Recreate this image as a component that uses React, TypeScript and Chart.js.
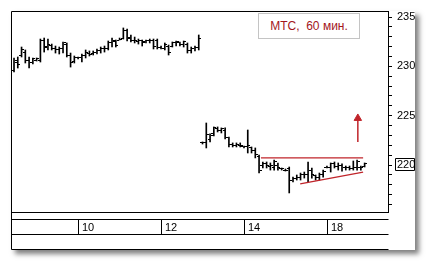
import React, { useEffect, useRef } from 'react';
import { Chart, registerables } from 'chart.js';

Chart.register(...registerables);

// Hourly OHLC bars (index = bar number)
const highs = [
  230.85, 230.95, 231.96, 231.66, 230.95, 230.85, 230.85, 232.77, 232.87, 232.77,
  232.26, 232.06, 231.96, 232.47, 232.37, 231.35, 231.05, 230.95, 231.25, 231.66,
  231.56, 231.56, 231.76, 231.96, 232.06, 232.57, 232.87, 232.67, 232.87, 233.89,
  233.78, 233.18, 232.97, 232.77, 232.67, 232.67, 232.77, 232.77, 232.77, 232.06,
  232.37, 232.16, 232.47, 232.57, 232.47, 232.57, 232.37, 231.96, 232.06, 233.18,
  222.34, 224.26, 223.15, 223.86, 223.86, 223.76, 223.76, 222.84, 222.24, 222.24,
  222.24, 221.93, 223.55, 221.83, 221.73, 221.02, 220.31, 220.31, 220.21, 220.51,
  220.21, 219.70, 219.60, 219.80, 218.78, 218.99, 219.19, 219.29, 220.31, 219.70,
  218.99, 219.19, 219.49, 219.90, 220.21, 220.31, 220.21, 220.11, 219.90, 219.90,
  220.41, 220.51, 219.90, 220.21,
];
const lows = [
  229.43, 229.83, 230.95, 230.34, 229.83, 230.24, 230.54, 230.44, 231.45, 231.66,
  231.66, 231.35, 231.25, 231.35, 230.95, 229.93, 230.34, 230.75, 230.44, 230.85,
  231.05, 231.15, 231.25, 231.35, 231.45, 231.66, 231.96, 231.96, 232.67, 232.77,
  232.57, 232.47, 232.37, 232.26, 232.06, 232.37, 232.37, 231.76, 231.76, 231.76,
  231.66, 231.15, 231.96, 232.06, 232.06, 231.96, 231.35, 231.35, 231.56, 231.66,
  222.13, 221.73, 222.34, 222.95, 223.35, 223.25, 222.64, 221.83, 221.83, 221.83,
  221.83, 221.73, 221.22, 221.22, 220.72, 219.19, 219.70, 219.70, 219.49, 219.49,
  219.49, 219.49, 219.39, 217.17, 218.28, 218.48, 218.48, 218.68, 218.28, 218.68,
  218.48, 218.48, 218.78, 219.70, 219.29, 219.70, 219.49, 219.39, 219.49, 219.49,
  219.49, 219.49, 219.49, 219.80,
];
const opens = [
  229.63, 230.44, 231.15, 231.45, 230.64, 230.44, 230.64, 230.64, 232.57, 232.06,
  232.16, 231.86, 231.66, 231.86, 232.26, 231.15, 230.54, 230.85, 230.85, 231.05,
  231.35, 231.35, 231.45, 231.56, 231.76, 231.86, 232.37, 232.47, 232.67, 232.87,
  233.68, 232.97, 232.67, 232.47, 232.57, 232.47, 232.57, 232.67, 232.57, 231.96,
  231.86, 232.06, 232.06, 232.37, 232.37, 232.26, 232.26, 231.56, 231.76, 231.96,
  222.24, 222.24, 222.54, 223.15, 223.66, 223.55, 223.55, 222.74, 222.13, 222.03,
  222.03, 221.83, 221.83, 221.73, 221.52, 220.82, 220.00, 220.11, 219.90, 219.80,
  220.00, 219.60, 219.49, 219.60, 218.48, 218.68, 218.78, 218.99, 219.09, 219.49,
  218.89, 218.78, 219.09, 219.80, 219.80, 220.11, 219.90, 220.00, 219.70, 219.80,
  219.60, 219.70, 219.70, 219.90,
];
const closes = [
  230.64, 230.14, 231.66, 230.64, 230.44, 230.75, 230.75, 232.57, 231.96, 232.26,
  231.86, 231.66, 231.86, 232.37, 231.15, 230.44, 230.85, 230.85, 231.15, 231.45,
  231.25, 231.45, 231.56, 231.76, 231.86, 232.37, 232.57, 232.16, 232.77, 233.68,
  232.87, 232.67, 232.57, 232.57, 232.37, 232.57, 232.67, 232.06, 231.96, 231.86,
  232.26, 231.45, 232.37, 232.47, 232.26, 232.47, 231.56, 231.76, 231.96, 232.87,
  222.24, 223.05, 222.95, 223.76, 223.55, 223.66, 222.84, 222.13, 222.03, 222.13,
  221.93, 221.83, 221.93, 221.52, 221.02, 219.49, 220.11, 220.00, 220.00, 220.31,
  219.70, 219.60, 219.49, 218.48, 218.68, 218.78, 218.99, 219.09, 219.49, 218.99,
  218.78, 219.09, 219.39, 219.80, 220.11, 219.90, 220.00, 219.70, 219.80, 219.60,
  219.70, 220.31, 219.80, 220.11,
];

// Day separators (first bar of a day) and their labels
const dayStarts = [17, 39, 61, 83];
const dayLabels = ['10', '12', '14', '18'];

// Y axis
const yMin = 215.24;
const yMax = 235.61;
const yLabelStep = 5;
const lastPriceLabel = 220;

// Drawn annotations (bar index, price)
const resistanceLine = [{ x: 65.5, y: 220.72 }, { x: 92.6, y: 220.72 }];
const supportLine = [{ x: 75.9, y: 218.08 }, { x: 92.6, y: 219.29 }];
const arrowLine = [{ x: 91.2, y: 222.34 }, { x: 91.2, y: 224.74 }];

const legendText = 'МТС,  60 мин.';

const RED = '#c0242a';
const FONT = '"Liberation Sans", Arial, sans-serif';

function makeTick(left: boolean) {
  const c = document.createElement('canvas');
  c.width = 5;
  c.height = 1;
  const g = c.getContext('2d')!;
  g.fillStyle = '#000';
  g.fillRect(left ? 0 : 3, 0, 2, 1);
  return c;
}

const framePlugin = {
  id: 'frame',
  beforeDatasetsDraw(chart: any) {
    chart.ctx.imageSmoothingEnabled = false;
  },
  afterDraw(chart: any) {
    const ctx = chart.ctx as CanvasRenderingContext2D;
    const a = chart.chartArea;
    const xs = chart.scales.x;
    const ys = chart.scales.y;
    const L = Math.round(a.left) + 0.5;
    const R = Math.round(a.right) + 0.5;
    const T = Math.round(a.top) + 0.5;
    const B = Math.round(a.bottom) + 0.5;
    ctx.save();
    ctx.strokeStyle = '#000';
    ctx.lineWidth = 1;
    ctx.beginPath();
    ctx.moveTo(L, T); ctx.lineTo(R, T);
    ctx.moveTo(L, T); ctx.lineTo(L, B + 37);
    ctx.moveTo(L, B); ctx.lineTo(R, B);
    ctx.moveTo(L, B + 7); ctx.lineTo(R, B + 7);
    ctx.moveTo(L, B + 22); ctx.lineTo(R, B + 22);
    ctx.moveTo(L, B + 37); ctx.lineTo(R, B + 37);
    dayStarts.forEach((d) => {
      const px = Math.round(xs.getPixelForValue(d)) + 0.5;
      ctx.moveTo(px, B + 7); ctx.lineTo(px, B + 22);
    });
    // box around last price label
    const py = Math.round(ys.getPixelForValue(lastPriceLabel));
    ctx.rect(R + 7, py - 6.5, 19, 12);
    ctx.stroke();
    ctx.fillStyle = '#000';
    ctx.font = '11px ' + FONT;
    ctx.textBaseline = 'middle';
    ctx.textAlign = 'left';
    dayStarts.forEach((d, k) => {
      const px = Math.round(xs.getPixelForValue(d));
      ctx.fillText(dayLabels[k], px + 4, B + 15);
    });
    ctx.restore();
  },
};

export default function App() {
  const ref = useRef<HTMLCanvasElement>(null);
  useEffect(() => {
    const openImg = makeTick(true);
    const closeImg = makeTick(false);
    const idx = highs.map((_, i) => i);
    const chart = new Chart(ref.current!, {
      type: 'scatter',
      data: {
        datasets: [
          {
            type: 'line',
            data: arrowLine,
            borderColor: RED,
            borderWidth: 1.5,
            pointRadius: [0, 4.3],
            pointStyle: 'triangle',
            pointBackgroundColor: RED,
            pointBorderColor: RED,
            pointBorderWidth: 1,
          } as any,
          {
            type: 'line',
            data: resistanceLine,
            borderColor: RED,
            borderWidth: 1.3,
            pointRadius: 0,
          },
          {
            type: 'line',
            data: supportLine,
            borderColor: RED,
            borderWidth: 1.3,
            pointRadius: 0,
          },
          {
            type: 'scatter',
            data: idx.map((i) => ({ x: i, y: opens[i] })),
            pointStyle: openImg as any,
            pointRadius: 2,
            showLine: false,
          },
          {
            type: 'scatter',
            data: idx.map((i) => ({ x: i, y: closes[i] })),
            pointStyle: closeImg as any,
            pointRadius: 2,
            showLine: false,
          },
          {
            type: 'bar',
            data: idx.map((i) => ({ x: i, y: [lows[i], highs[i]] })) as any,
            backgroundColor: '#000',
            borderWidth: 0,
            barThickness: 1,
            grouped: false,
          } as any,
        ],
      },
      options: {
        responsive: false,
        animation: false,
        devicePixelRatio: 1,
        events: [],
        layout: { padding: { left: 11, top: 11, right: 16, bottom: 51 } },
        plugins: {
          legend: { display: false },
          tooltip: { enabled: false },
        },
        scales: {
          x: {
            type: 'linear',
            display: false,
            min: -0.8,
            max: 99.2,
            offset: false,
          },
          y: {
            type: 'linear',
            position: 'right',
            min: yMin,
            max: yMax,
            beginAtZero: false,
            grid: {
              drawOnChartArea: false,
              drawTicks: true,
              tickLength: 4,
              color: '#000',
              lineWidth: 1,
            },
            border: { display: true, color: '#000', width: 1 },
            ticks: {
              stepSize: 1,
              includeBounds: false,
              autoSkip: false,
              padding: 5,
              color: '#000',
              font: { family: FONT, size: 11, lineHeight: 1 },
              callback: (v: any) => (Number(v) % yLabelStep === 0 ? String(v) : ''),
            },
            afterFit: (s: any) => {
              s.width = 27;
            },
          } as any,
        },
      },
      plugins: [framePlugin],
    });
    return () => chart.destroy();
  }, []);

  return (
    <div style={{ position: 'absolute', left: 0, top: 0, width: 431, height: 263, background: '#fff', overflow: 'hidden' }}>
      <div
        style={{
          position: 'absolute',
          left: 11,
          top: 11,
          width: 404,
          height: 239,
          background: '#fff',
          boxShadow: '4px 4px 5px rgba(0,0,0,0.5)',
        }}
      />
      <canvas
        ref={ref}
        width={431}
        height={263}
        style={{ position: 'absolute', left: 0, top: 0, width: 431, height: 263 }}
      />
      <div
        style={{
          position: 'absolute',
          left: 258,
          top: 13,
          width: 100,
          height: 24,
          border: '1px solid #c4c4c4',
          color: '#a3161c',
          font: '12px ' + FONT,
          display: 'flex',
          alignItems: 'center',
          justifyContent: 'center',
          whiteSpace: 'pre',
          background: '#fff',
        }}
      >
        {legendText}
      </div>
    </div>
  );
}
